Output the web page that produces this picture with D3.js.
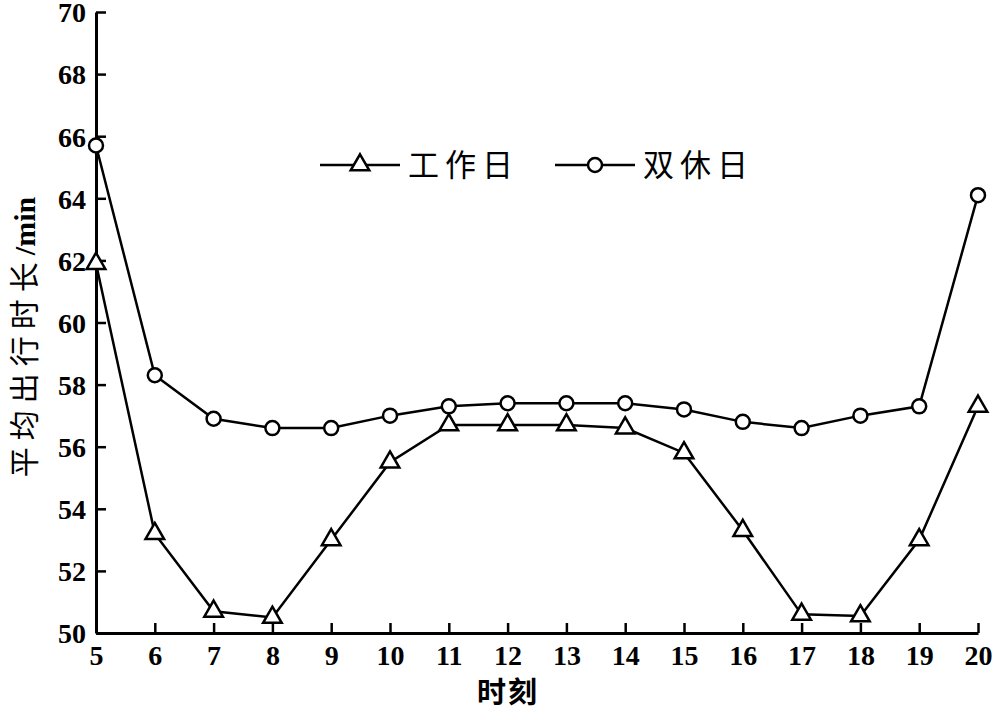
<!DOCTYPE html>
<html><head><meta charset="utf-8">
<script src="https://cdn.jsdelivr.net/npm/d3@7"></script>
<style>body{margin:0;background:#fff}</style>
</head><body>
<script>
const hours = [5,6,7,8,9,10,11,12,13,14,15,16,17,18,19,20];
const workday = [61.9,53.2,50.7,50.5,53.0,55.5,56.7,56.7,56.7,56.6,55.8,53.3,50.6,50.55,53.0,57.3];
const weekend = [65.7,58.3,56.9,56.6,56.6,57.0,57.3,57.4,57.4,57.4,57.2,56.8,56.6,57.0,57.3,64.1];
const yTicks = [50,52,54,56,58,60,62,64,66,68,70];
const seriesNames = ["工作日","双休日"];
const xTitle = "时刻";
const yTitle = "平均出行时长/min";

const W=1000,H=712;
const svg=d3.select("body").append("svg").attr("width",W).attr("height",H);
const x=d3.scaleLinear().domain([5,20]).range([96,978]);
const y=d3.scaleLinear().domain([50,70]).range([633,12]);
const serif="'Liberation Serif','Times New Roman',serif";
const cjk="'Noto Sans CJK SC',sans-serif";

// axes
const xa=svg.append("g").attr("transform",`translate(0,${y(50)})`)
  .call(d3.axisBottom(x).tickValues(hours).tickFormat(d3.format("d")).tickSize(-10).tickSizeOuter(0).tickPadding(12));
const ya=svg.append("g").attr("transform",`translate(${x(5)},0)`)
  .call(d3.axisLeft(y).tickValues(yTicks).tickFormat(d3.format("d")).tickSize(-10).tickSizeOuter(0).tickPadding(10));
[xa,ya].forEach(a=>{
  a.select(".domain").attr("stroke","#000").attr("stroke-width",3);
  a.selectAll(".tick line").attr("stroke","#000").attr("stroke-width",2.5);
  a.selectAll("text").attr("font-family",serif).attr("font-weight","bold").attr("font-size",28).attr("fill","#000");
});
xa.selectAll("text").attr("dy","0.71em");
ya.selectAll("text").attr("dy","0.35em");

// titles
svg.append("text").attr("x",508).attr("y",703).attr("text-anchor","middle")
  .attr("font-family",cjk).attr("font-weight","bold").attr("font-size",29).attr("letter-spacing",2).text(xTitle);
svg.append("text").attr("transform","translate(35,337) rotate(-90)").attr("text-anchor","middle")
  .attr("font-size",30)
  .selectAll("tspan").data([[yTitle.slice(0,6),cjk,"normal",7],[yTitle.slice(6),serif,"bold",0]]).join("tspan")
  .attr("font-family",d=>d[1]).attr("font-weight",d=>d[2]).attr("letter-spacing",d=>d[3]).text(d=>d[0]);

const line=d3.line().x((d,i)=>x(hours[i])).y(d=>y(d));
const tri=d3.symbol().type(d3.symbolTriangle).size(150);

function drawSeries(vals,marker){
  svg.append("path").datum(vals).attr("d",line).attr("fill","none").attr("stroke","#000").attr("stroke-width",2.5);
  const g=svg.append("g");
  vals.forEach((v,i)=>drawMarker(g,x(hours[i]),y(v),marker));
}
function drawMarker(g,cx,cy,marker){
  if(marker==="tri"){
    g.append("path").attr("d",tri).attr("transform",`translate(${cx},${cy})`)
      .attr("fill","#fff").attr("stroke","#000").attr("stroke-width",2.5);
  } else {
    g.append("circle").attr("cx",cx).attr("cy",cy).attr("r",7)
      .attr("fill","#fff").attr("stroke","#000").attr("stroke-width",2.5);
  }
}
drawSeries(workday,"tri");
drawSeries(weekend,"circ");

// legend
const leg=[{name:seriesNames[0],m:"tri",x0:320},{name:seriesNames[1],m:"circ",x0:555}];
leg.forEach(l=>{
  svg.append("line").attr("x1",l.x0).attr("x2",l.x0+80).attr("y1",165).attr("y2",165).attr("stroke","#000").attr("stroke-width",2.5);
  drawMarker(svg,l.x0+40,165,l.m);
  svg.append("text").attr("x",l.x0+88).attr("y",176).attr("font-family",cjk).attr("font-size",31).attr("fill","#000")
    .attr("letter-spacing",6).text(l.name);
});
</script>
</body></html>
